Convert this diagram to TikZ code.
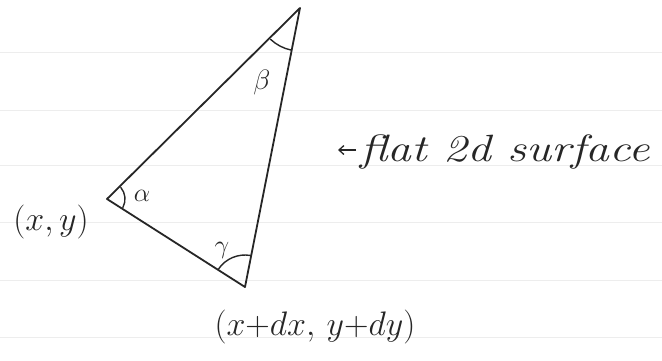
\documentclass[tikz,border=0pt]{standalone}
\usepackage{fix-cm}
\usetikzlibrary{arrows.meta}
\begin{document}
\begin{tikzpicture}[x=1pt,y=-1pt,
  edge/.style={line width=1.8pt,line cap=round,line join=round,black!85},
  anglemark/.style={line width=1.4pt,line cap=round,black!85},
  rule/.style={line width=0.6pt,black!7},
  lbl/.style={inner sep=0pt,text=black!85}]
\useasboundingbox[fill=white] (0,0) rectangle (662,360);
% faint ruled lines of the notebook paper
\foreach \yy in {52,110,165,222,280,337}
  \draw[rule] (0,\yy) -- (662,\yy);
% vertices
\coordinate (T) at (300,8);
\coordinate (L) at (107,199);
\coordinate (B) at (245,287);
\draw[edge] (T) -- (L) -- (B) -- cycle;
% angle marks (y axis points down, so angles turn clockwise)
\draw[anglemark] ([shift={(-40:18)}]L) arc[start angle=-40,end angle=28,radius=18];
\node[lbl,font=\fontsize{26}{26}\selectfont] (alpha) at (142,196) {$\alpha$};
\draw[anglemark] ([shift={(133:43)}]T) arc[start angle=133,end angle=102,radius=43];
\node[lbl,font=\fontsize{28}{28}\selectfont] (beta) at (262,82) {$\beta$};
\draw[anglemark] ([shift={(-80:32)}]B) arc[start angle=-80,end angle=-146,radius=32];
\node[lbl,font=\fontsize{26}{26}\selectfont] (gamma) at (222,250) {$\gamma$};
% labels
\node[lbl,font=\fontsize{34}{34}\selectfont] (xy) at (51,222) {$(x,y)$};
\node[lbl,font=\fontsize{34}{34}\selectfont] (xdy) at (315,327) {$(x{+}dx,\,y{+}dy)$};
\node[lbl,anchor=west,font=\fontsize{38}{38}\selectfont\itshape] (surf) at (360,152) {\scalebox{1.25}[1]{flat 2d surface}};
\coordinate (arrstart) at (356,150);
\coordinate (arrend) at (338,150);
\draw[line width=1.3pt,black!85,-{Straight Barb[length=5pt,width=9pt]}] (arrstart) -- (arrend);
\end{tikzpicture}
\end{document}
